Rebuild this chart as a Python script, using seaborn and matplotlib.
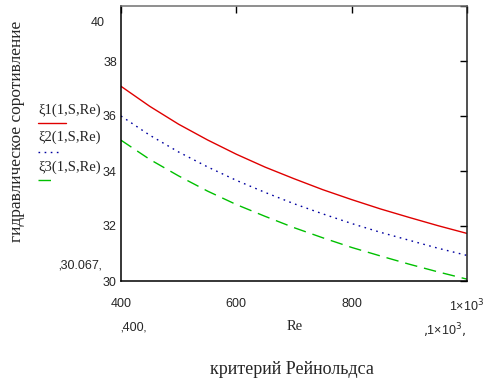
import numpy as np
import pandas as pd
from matplotlib import pyplot as plt
from matplotlib import ticker as ticker
from matplotlib.lines import Line2D
import seaborn as sns

sns.set_style('white')

# values
re_vals = [400, 450, 500, 550, 600, 650, 700, 750, 800, 850, 900, 950, 1000]
xi1 = [37.08, 36.35, 35.70, 35.13, 34.61, 34.14, 33.72, 33.32, 32.96, 32.62, 32.31, 32.01, 31.73]
xi2 = [36.00, 35.30, 34.69, 34.15, 33.66, 33.22, 32.81, 32.44, 32.09, 31.77, 31.48, 31.19, 30.93]
xi3 = [35.12, 34.42, 33.82, 33.27, 32.78, 32.35, 31.94, 31.57, 31.22, 30.91, 30.61, 30.33, 30.067]
names = ['ξ1(1,S,Re)', 'ξ2(1,S,Re)', 'ξ3(1,S,Re)']
colors = ['#e00000', '#0000a0', '#00c000']
dash_list = ['', (1.2, 3.2), (9, 5)]
yticks = [30, 32, 34, 36, 38]

n = len(re_vals)
df = pd.DataFrame({
    'Re': re_vals * 3,
    'xi': xi1 + xi2 + xi3,
    'name': [names[0]] * n + [names[1]] * n + [names[2]] * n,
})

fig = plt.figure(figsize=(5.02, 3.81), dpi=100)
ax = fig.add_axes([121 / 502, 100 / 381, 346 / 502, 275 / 381])

sns.lineplot(data=df, x='Re', y='xi', hue='name', style='name',
             palette=dict(zip(names, colors)), dashes=dict(zip(names, dash_list)),
             linewidth=1.0, legend=False, ax=ax)

ax.set(xlim=(400, 1000), ylim=(30, 40))
ax.xaxis.set_major_locator(ticker.FixedLocator([400, 600, 800, 1000]))
ax.set_xticklabels(['400', '600', '800', r'1×10$^3$'])
ax.yaxis.set_major_locator(ticker.FixedLocator(yticks + [40]))
ax.set_yticklabels([str(t) for t in yticks] + [''])
ax.tick_params(direction='in', length=5, width=1, color='black',
               top=True, right=True, labelsize=9)
ax.tick_params(axis='x', pad=12)
ax.tick_params(axis='y', pad=3)
for lb in ax.get_xticklabels() + ax.get_yticklabels():
    lb.set_family('Liberation Sans')
ax.set_xlabel('')
ax.set_ylabel('')

for s in ['left', 'bottom']:
    ax.spines[s].set_color('black')
    ax.spines[s].set_linewidth(1.1)
ax.spines['top'].set_color('#707070')
ax.spines['right'].set_color('#202020')
ax.spines['top'].set_linewidth(1.1)
ax.spines['right'].set_linewidth(1.1)

# Mathcad style range labels
fig.text(98 / 502, 1 - 23 / 381, '40', ha='center', va='center', fontsize=9, family='Liberation Sans')
fig.text(80 / 502, 1 - 266 / 381, '‚30.067‚', ha='center', va='center', fontsize=9, family='Liberation Sans')
fig.text(133 / 502, 1 - 327 / 381, '‚400‚', ha='center', va='center', fontsize=9, family='Liberation Sans')
fig.text(295 / 502, 1 - 327 / 381, 'Re', ha='center', va='center', fontsize=10.5, family='Liberation Serif')
fig.text(444 / 502, 1 - 331 / 381, r'‚1×10$^3$‚', ha='center', va='center', fontsize=9, family='Liberation Sans')

fig.text(292 / 502, 1 - 369 / 381, 'критерий Рейнольдса', ha='center', va='center',
         fontsize=13, family='Liberation Serif')
fig.text(17 / 502, 1 - 131 / 381, 'гидравлическое соротивление', ha='center', va='center',
         rotation=90, fontsize=12.5, family='Liberation Serif')

# legend, Mathcad layout: name above a short line sample
leg_text_y = [110, 137, 167]
leg_line_y = [122.5, 152, 180]
leg_line_x2 = [66, 61, 57]
for i in range(3):
    fig.text(38 / 502, 1 - leg_text_y[i] / 381, names[i], ha='left', va='center',
             fontsize=10.5, family='Liberation Serif')
    ln = Line2D([38 / 502, leg_line_x2[i] / 502], [1 - leg_line_y[i] / 381] * 2,
                transform=fig.transFigure, color=colors[i], linewidth=1.0)
    if dash_list[i]:
        ln.set_dashes(dash_list[i])
    fig.add_artist(ln)

plt.savefig('out.png', dpi=100)
